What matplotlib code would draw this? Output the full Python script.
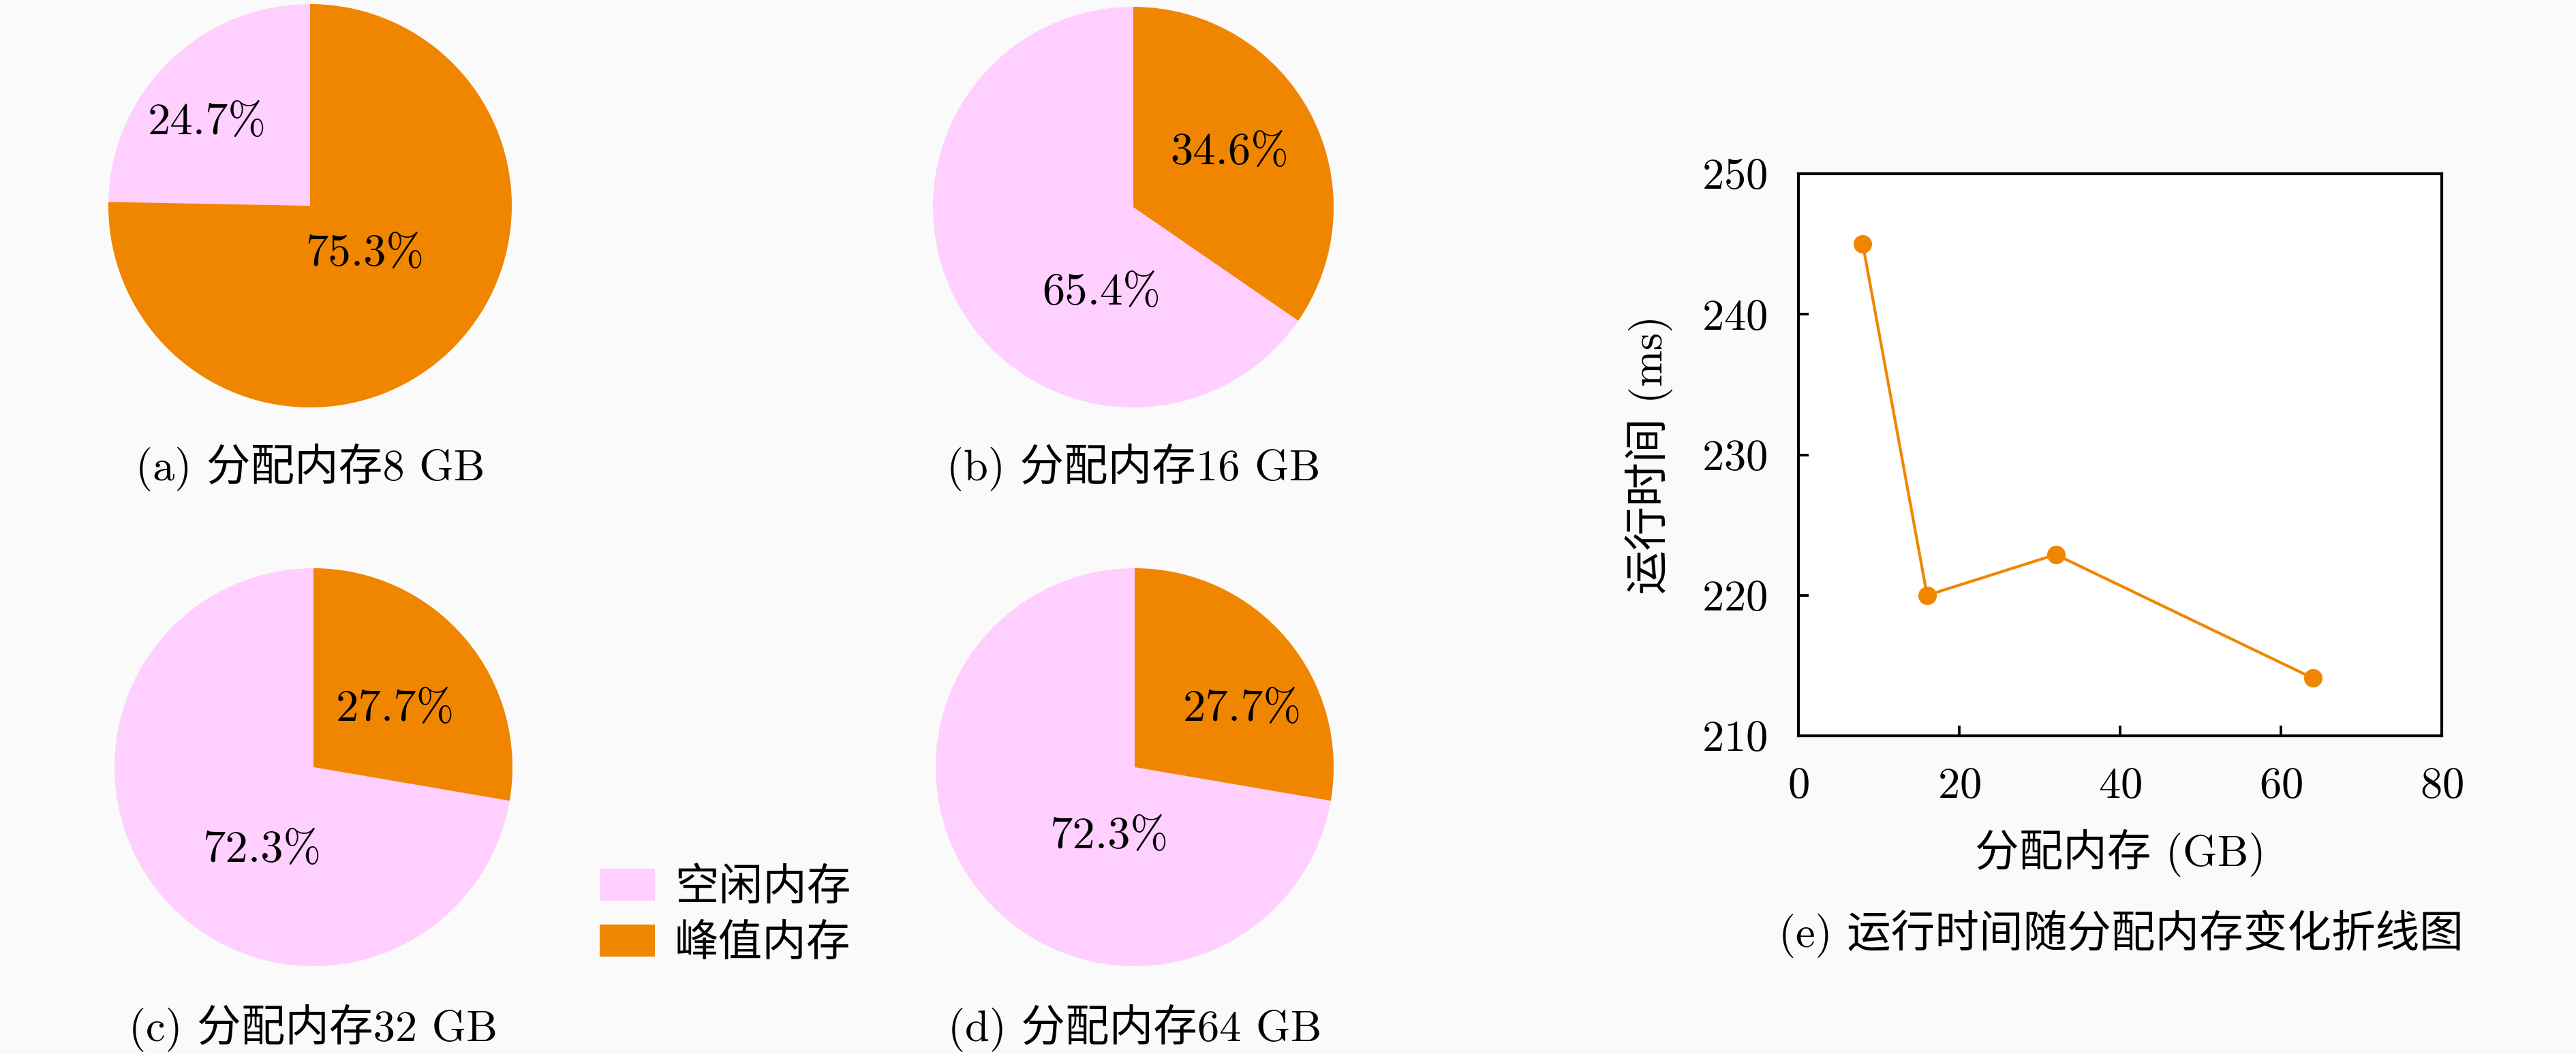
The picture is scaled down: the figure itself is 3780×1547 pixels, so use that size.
import numpy as np
import matplotlib
matplotlib.use("Agg")
import matplotlib.pyplot as plt
from matplotlib.patches import Patch

# ==================================================
# DATA
# ==================================================

MEMORY_GB = [8, 16, 32, 64]
IDLE_PCT = [24.7, 65.4, 72.3, 72.3]
PEAK_PCT = [75.3, 34.6, 27.7, 27.7]
PANEL_TAGS = ["(a)", "(b)", "(c)", "(d)"]
SLICE_NAMES = ["空闲内存", "峰值内存"]

RUNTIME_MS = [245.0, 220.0, 222.9, 214.1]
X_TICKS = [0, 20, 40, 60, 80]
Y_TICKS = [210, 220, 230, 240, 250]

# ==================================================
# STYLE / LAYOUT
# ==================================================

W, H = 3780, 1547
DPI = 300
PINK = "#ffcfff"
ORANGE = "#f08600"
BG = "#fafafa"
FONT = ["cmr10", "Noto Sans CJK SC", "DejaVu Sans"]
FS = 15.5

plt.rcParams["font.family"] = FONT
plt.rcParams["axes.formatter.use_mathtext"] = True

# pie centres / radii in pixels, label offsets in radius units
PIE_BOXES = [(455, 302, 296), (1663, 304, 294), (460, 1126, 292), (1665, 1126, 292)]
LABEL_OFFSETS = [
    [(-0.51, 0.41), (0.27, -0.24)],
    [(-0.16, -0.43), (0.48, 0.27)],
    [(-0.26, -0.42), (0.41, 0.29)],
    [(-0.13, -0.35), (0.54, 0.29)],
]
CAPTION_Y = [686, 686, 1509, 1509]


def fx(px):
    return px / W


def fy(py):
    return 1 - py / H


fig = plt.figure(figsize=(W / DPI, H / DPI), dpi=DPI, facecolor=BG)

# ==================================================
# PIES
# ==================================================

for i in range(4):
    cx, cy, r = PIE_BOXES[i]
    ax = fig.add_axes([fx(cx - r), fy(cy + r), 2 * r / W, 2 * r / H])
    ax.set_facecolor(BG)
    wedges, _, autotexts = ax.pie(
        [IDLE_PCT[i], PEAK_PCT[i]],
        colors=[PINK, ORANGE],
        startangle=90,
        counterclock=True,
        autopct="%1.1f%%",
        wedgeprops=dict(linewidth=0),
        textprops=dict(fontsize=16, family=FONT, color="black"),
    )
    for t, (dx, dy) in zip(autotexts, LABEL_OFFSETS[i]):
        t.set_position((dx, dy))
    ax.set_xlim(-1, 1)
    ax.set_ylim(-1, 1)
    ax.set_aspect("equal")
    fig.text(fx(cx), fy(CAPTION_Y[i]), f"{PANEL_TAGS[i]} 分配内存{MEMORY_GB[i]} GB",
             ha="center", va="center", fontsize=FS, family=FONT)

handles = [Patch(facecolor=PINK, edgecolor="none"), Patch(facecolor=ORANGE, edgecolor="none")]
fig.legend(handles, SLICE_NAMES, loc="center left",
           bbox_to_anchor=(fx(880), fy(1345)), frameon=False,
           fontsize=FS, handlelength=1.25, handleheight=0.75,
           handletextpad=0.45, labelspacing=0.35, borderpad=0, borderaxespad=0,
           prop=dict(family=FONT, size=FS))

# ==================================================
# LINE CHART
# ==================================================

ax = fig.add_axes([fx(2639), fy(1080), (3583 - 2639) / W, (1080 - 255) / H])
ax.set_facecolor("white")
ax.plot(MEMORY_GB, RUNTIME_MS, color=ORANGE, linewidth=1.0,
        marker="o", markersize=6.5, markeredgewidth=0)
ax.set_xlim(0, 80)
ax.set_ylim(210, 250)
ax.set_xticks(X_TICKS)
ax.set_yticks(Y_TICKS)
ax.tick_params(direction="in", length=3.6, width=0.9, labelsize=FS, pad=11,
               top=False, right=False)
for s in ax.spines.values():
    s.set_linewidth(1.0)
ax.set_xlabel("分配内存 (GB)", fontsize=FS, family=FONT, labelpad=8)
ax.set_ylabel("运行时间 (ms)", fontsize=FS, family=FONT, labelpad=10)

fig.text(fx(3112), fy(1371), "(e) 运行时间随分配内存变化折线图",
         ha="center", va="center", fontsize=FS, family=FONT)

fig.savefig("out.png", dpi=DPI, facecolor=BG)
